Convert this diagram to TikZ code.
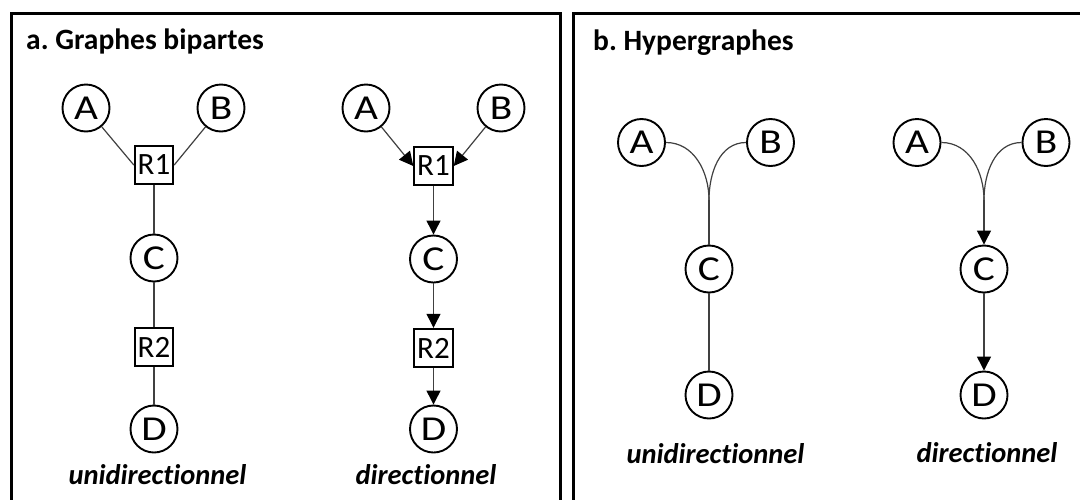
\documentclass[tikz,border=0pt]{standalone}
\usepackage{fontspec}
\setmainfont{Carlito}[Ligatures=NoCommon]
\newfontfamily\letterfont{Carlito}[FakeStretch=1.18]
\usetikzlibrary{arrows.meta}
\frenchspacing
\tikzset{
  frame/.style={draw=black,line width=3pt},
  vnode/.style={circle,draw=black,line width=1.9pt,minimum size=47pt,inner sep=0pt,font=\letterfont\fontsize{35}{35}\selectfont},
  rnode/.style={rectangle,draw=black,line width=1.9pt,minimum size=38.5pt,inner sep=0pt,font=\fontsize{31}{31}\selectfont},
  edge/.style={draw=black!75,line width=1.2pt},
  arr/.style={edge,-{Triangle[length=14pt,width=14pt,color=black]}},
  title/.style={anchor=base west,inner sep=0pt,font=\fontsize{29.5}{30}\selectfont\bfseries},
  caption/.style={anchor=base,inner sep=0pt,font=\fontsize{28.5}{30}\selectfont\bfseries\itshape}
}
\begin{document}
\begin{tikzpicture}[x=1pt,y=-1pt]
\useasboundingbox (0,0) rectangle (1080,499);
\clip (0,0) rectangle (1080,499);
\fill[white] (0,0) rectangle (1080,499);
% frames
\draw[frame] (11.5,13.5) rectangle (560,530);
\draw[frame] (573,13.5) rectangle (1100,530);
% titles
\node[title] (ta) at (26,49) {a. Graphes bipartes};
\node[title] (tb) at (593,50) {b. Hypergraphes};
% graph 1: bipartite undirected
\node[vnode] (A1) at (86,108) {A};
\node[vnode] (B1) at (221,108) {B};
\node[rnode] (R11) at (154,165) {R1};
\node[vnode] (C1) at (154,258) {C};
\node[rnode] (R21) at (154,347) {R2};
\node[vnode] (D1) at (154,429) {D};
\draw[edge] (A1) -- (R11.west);
\draw[edge] (B1) -- (R11.east);
\draw[edge] (R11) -- (C1);
\draw[edge] (C1) -- (R21);
\draw[edge] (R21) -- (D1);
\node[caption] (u1) at (157.5,484) {unidirectionnel};
% graph 2: bipartite directed
\node[vnode] (A2) at (366,108) {A};
\node[vnode] (B2) at (501,108) {B};
\node[rnode] (R12) at (433.5,166) {R1};
\node[vnode] (C2) at (433.5,259) {C};
\node[rnode] (R22) at (433.5,348) {R2};
\node[vnode] (D2) at (433.5,429) {D};
\draw[arr] (A2) -- (R12.west);
\draw[arr] (B2) -- (R12.east);
\draw[arr] (R12) -- (C2);
\draw[arr] (C2) -- (R22);
\draw[arr] (R22) -- (D2);
\node[caption] (u2) at (426,484) {directionnel};
% graph 3: hypergraph undirected
\node[vnode] (A3) at (641.5,142.5) {A};
\node[vnode] (B3) at (770.5,142.5) {B};
\coordinate (J3) at (709,200);
\node[vnode] (C3) at (709,269) {C};
\node[vnode] (D3) at (709,395) {D};
\draw[edge] (A3.east) to[out=0,in=90] (J3);
\draw[edge] (B3.west) to[out=180,in=90] (J3);
\draw[edge] (J3) -- (C3);
\draw[edge] (C3) -- (D3);
\node[caption] (u3) at (715.5,463) {unidirectionnel};
% graph 4: hypergraph directed
\node[vnode] (A4) at (917,142.5) {A};
\node[vnode] (B4) at (1046,142.5) {B};
\coordinate (J4) at (984,200);
\node[vnode] (C4) at (984,269) {C};
\node[vnode] (D4) at (984,395) {D};
\draw[edge] (A4.east) to[out=0,in=90] (J4);
\draw[edge] (B4.west) to[out=180,in=90] (J4);
\draw[arr] (J4) -- (C4);
\draw[arr] (C4) -- (D4);
\node[caption] (u4) at (987,462) {directionnel};
\end{tikzpicture}
\end{document}
